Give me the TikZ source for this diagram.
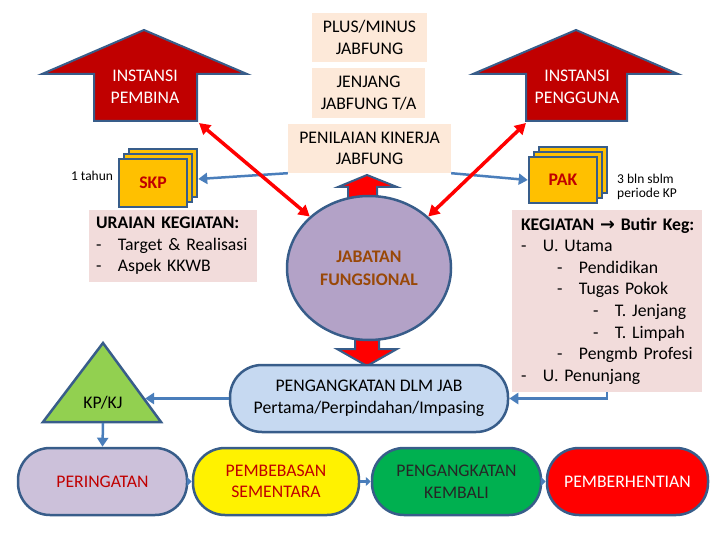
\documentclass[tikz,border=0pt]{standalone}
\usepackage{fontspec}
\setmainfont{Carlito}
\newfontfamily\symfont{DejaVu Sans}
\usetikzlibrary{arrows.meta,positioning,calc,shadows,shapes.geometric}
\definecolor{darkred}{RGB}{192,0,0}
\definecolor{edgeblue}{RGB}{56,93,138}
\definecolor{linkblue}{RGB}{74,126,187}
\definecolor{boxpeach}{RGB}{253,233,217}
\definecolor{boxpink}{RGB}{242,220,219}
\definecolor{boxlavender}{RGB}{179,162,199}
\definecolor{boxlightblue}{RGB}{198,217,241}
\definecolor{boxlilac}{RGB}{204,193,218}
\definecolor{boxgold}{RGB}{255,192,0}
\definecolor{boxlime}{RGB}{146,208,80}
\definecolor{boxgreen}{RGB}{0,176,80}
\definecolor{textbrown}{RGB}{153,72,7}
\newcommand{\kegline}[2]{\hspace*{#1}\makebox[22pt][l]{-}#2}

\tikzset{
  base/.style={font=\fontsize{17.7}{21.6}\selectfont,align=center,inner sep=0pt},
  small/.style={font=\fontsize{13.5}{14}\selectfont,align=left,inner sep=0pt},
  peachbox/.style={base,fill=boxpeach,minimum height=49pt},
  notebox/.style={base,fill=boxpink,align=left},
  edge/.style={draw=edgeblue,line width=2.5pt},
  blockarrow/.style={draw=edgeblue,line width=2pt,line join=miter},
  stadium/.style={base,edge,rounded corners=32pt,minimum height=67pt},
  docstack/.style={base,edge,fill=boxgold,minimum width=68pt,font=\fontsize{17.7}{21.6}\selectfont\bfseries,text=darkred,
    copy shadow={shadow xshift=10pt,shadow yshift=10pt},copy shadow={shadow xshift=5pt,shadow yshift=5pt}},
  link/.style={draw=linkblue,line width=2.5pt,-{Triangle[length=9pt,width=11pt]}},
  shortlink/.style={draw=linkblue,line width=3pt,-{Triangle[length=5pt,width=9pt]}},
  redlink/.style={draw=red,line width=3.5pt,{Triangle[length=11pt,width=12pt]}-{Triangle[length=11pt,width=12pt]}}
}

\begin{document}
\begin{tikzpicture}[x=1pt,y=-1pt]
  \useasboundingbox (0,0) rectangle (720,540);

  % top boxes
  \node[peachbox,minimum width=115pt] (plusminus) at (369.5,37.5) {PLUS/MINUS\\JABFUNG};
  \node[peachbox,minimum width=113pt,minimum height=50pt] (jenjang) at (368.5,93) {JENJANG\\JABFUNG T/A};
  \node[peachbox,minimum width=163pt] (penilaian) at (369.5,148.5) {PENILAIAN KINERJA\\JABFUNG};

  % big arrows
  \draw[blockarrow,fill=darkred] (94,121) -- (94,74) -- (42,74) -- (144,30) -- (247,74) -- (197,74) -- (197,121) -- cycle;
  \node[base,text=white] (pembina) at (145,87) {INSTANSI\\PEMBINA};
  \coordinate (pembina foot) at (199,123);

  \draw[blockarrow,fill=darkred] (526,121) -- (526,74) -- (473,74) -- (576,30) -- (678,74) -- (627,74) -- (627,121) -- cycle;
  \node[base,text=white] (pengguna) at (577,87) {INSTANSI\\PENGGUNA};
  \coordinate (pengguna foot) at (526,123);

  % stacks
  \node[docstack,minimum height=48pt] (skp) at (153,183) {SKP};
  \node[docstack,minimum height=46pt] (pak) at (563,180) {PAK};
  \node[small] (tahun) at (92,176) {1 tahun};
  \node[small,anchor=west] (sblm) at (617,187) {3 bln sblm\\periode KP};

  \draw[link] (penilaian.south west) -- ([xshift=10pt,yshift=4pt]skp.east);
  \draw[link] (penilaian.south east) -- (pak.west);

  % lists
  \node[notebox,minimum width=168pt,minimum height=72pt,text width=154pt] (uraian) at (173,246)
    {\textbf{URAIAN KEGIATAN:}\\\kegline{0pt}{Target \& Realisasi}\\\kegline{0pt}{Aspek KKWB}};
  \node[notebox,minimum width=190pt,minimum height=182pt,text width=172pt] (kegiatan) at (607,301)
    {\mbox{\textbf{KEGIATAN {\symfont\bfseries →} Butir Keg:}}\\
     \kegline{0pt}{U. Utama}\\
     \kegline{36pt}{Pendidikan}\\
     \kegline{36pt}{Tugas Pokok}\\
     \kegline{72pt}{T. Jenjang}\\
     \kegline{72pt}{T. Limpah}\\
     \kegline{36pt}{Pengmb Profesi}\\
     \kegline{0pt}{U. Penunjang}};

  % centre
  \draw[blockarrow,fill=red] (348,200) -- (348,187) -- (338,187) -- (367,175) -- (397,187) -- (377,187) -- (377,200) -- cycle;
  \draw[blockarrow,fill=red] (355,330) -- (355,349) -- (337,349) -- (367,366) -- (397,349) -- (379,349) -- (379,330) -- cycle;
  \node[base,edge,ellipse,fill=boxlavender,minimum width=164pt,minimum height=144pt,
    font=\fontsize{17.7}{23}\selectfont\bfseries,text=textbrown] (jab) at (369,268) {JABATAN\\FUNGSIONAL};
  \node[stadium,fill=boxlightblue,minimum width=278pt] (pengdlm) at (369,398.5)
    {PENGANGKATAN DLM JAB\\Pertama/Perpindahan/Impasing};

  \draw[redlink] (pembina foot) -- (jab.139);
  \draw[redlink] (pengguna foot) -- (jab.41);

  \draw[link] (kegiatan.south) |- (pengdlm.east);

  % KP/KJ
  \draw[edge,fill=boxlime,line join=miter] (103,343) -- (161,422) -- (43,422) -- cycle;
  \node[base] (kpkj) at (103,403) {KP/KJ};
  \coordinate (kp side) at (145,398.5);
  \coordinate (kp base) at (103,423);
  \draw[link] (pengdlm.west) -- (kp side);

  % bottom row
  \node[stadium,fill=boxlilac,text=darkred,minimum width=169pt] (peringatan) at (102.5,481.5) {PERINGATAN};
  \node[stadium,fill=yellow,text=darkred,minimum width=166pt] (pembebasan) at (276,481.5) {PEMBEBASAN\\SEMENTARA};
  \node[stadium,fill=boxgreen,text=black!85,minimum width=169pt] (kembali) at (456.5,481.5) {PENGANGKATAN\\KEMBALI};
  \node[stadium,fill=red,text=white,minimum width=161pt] (berhenti) at (627.5,481.5) {PEMBERHENTIAN};

  \draw[link] (kp base) -- (peringatan.north);
  \draw[shortlink] (peringatan.east) -- (pembebasan.west);
  \draw[shortlink] (pembebasan.east) -- (kembali.west);
  \draw[shortlink] (kembali.east) -- (berhenti.west);
\end{tikzpicture}
\end{document}
